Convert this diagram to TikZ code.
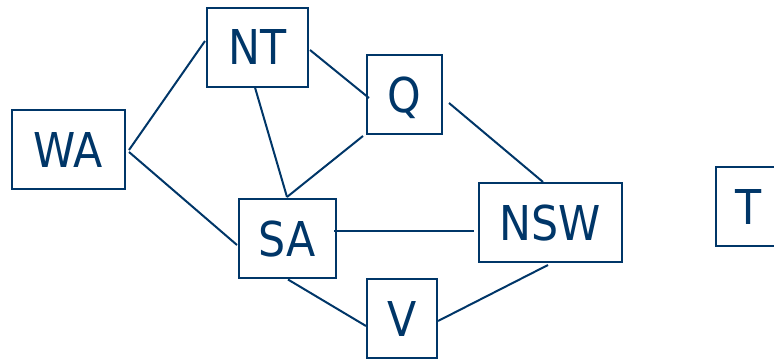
\documentclass[tikz,border=0pt]{standalone}
\usepackage{fontspec}
\usepackage{tikz}
\usetikzlibrary{positioning}

\newfontfamily\mapfont[FakeStretch=0.89]{DejaVu Sans}
\definecolor{ozblue}{RGB}{0,54,104}

\tikzset{
    region/.style={draw=ozblue, rectangle, line width=2pt, text=ozblue,
        font=\mapfont\fontsize{48pt}{50pt}\selectfont,
        text height=35pt, text depth=0pt, minimum height=79pt, inner sep=0pt},
    border/.style={draw=ozblue, line width=2pt}
}

\begin{document}
\begin{tikzpicture}[x=1pt, y=-1pt]
        \clip (0,0) rectangle (774,359);
        \useasboundingbox (0,0) rectangle (774,359);
        % mainland states and territories
        \node[region, minimum width=113pt] (WA)  at (68.5,149.5) {WA};
        \node[region, minimum width=101pt] (NT)  at (257.5,47)   {NT};
        \node[region, minimum width=75pt]  (Q)   at (404.5,94.5) {Q};
        \node[region, minimum width=97pt]  (SA)  at (287.5,238.5) {SA};
        \node[region, minimum width=143pt] (NSW) at (550.5,222.5) {NSW};
        \node[region, minimum width=70pt]  (V)   at (402,318.5)  {V};
        % Tasmania has no neighbours
        \node[region, minimum width=66pt]  (T)   at (749,206.5)  {T};

        % shared borders
        \draw[border] ([shift={(3,0.5)}]WA.east) -- ([shift={(-1,-6)}]NT.west);
        \draw[border] ([shift={(3,2.5)}]WA.east) -- ([shift={(-1,6.5)}]SA.west);
        \draw[border] ([shift={(-2.5,0)}]NT.south) -- ([shift={(-0.5,-1)}]SA.north);
        \draw[border] ([shift={(1,3)}]NT.east) -- ([shift={(3,3.5)}]Q.west);
        \draw[border] ([shift={(-3,1)}]Q.south west) -- ([shift={(-0.5,-1)}]SA.north);
        \draw[border] ([shift={(6,8.5)}]Q.east) -- ([shift={(-7.5,0)}]NSW.north);
        \draw[border] ([shift={(-3,-7.5)}]SA.east) -- ([shift={(-4,8.5)}]NSW.west);
        \draw[border] ([shift={(0.5,0.5)}]SA.south) -- ([shift={(0,7.5)}]V.west);
        \draw[border] ([shift={(0,2.5)}]V.east) -- ([shift={(-2.5,2)}]NSW.south);
    \end{tikzpicture}
\end{document}
